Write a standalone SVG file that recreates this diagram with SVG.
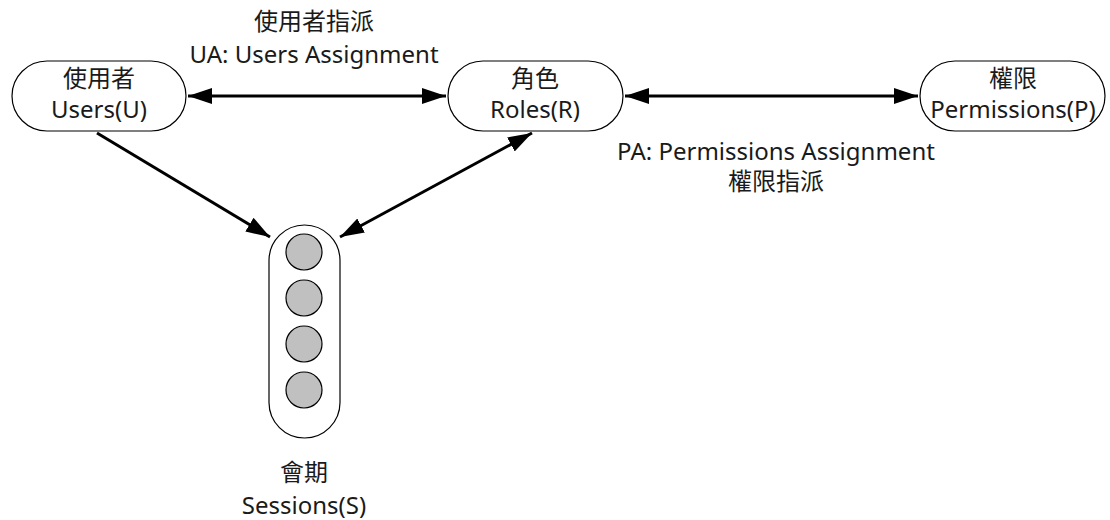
<svg xmlns="http://www.w3.org/2000/svg" width="1110" height="520" viewBox="0 0 1110 520">
<style>
.node{fill:#fff;stroke:#000;stroke-width:1.2}
.dot{fill:#c0c0c0;stroke:#000;stroke-width:1.2}
.t{font-family:"Noto Sans","Noto Sans CJK TC",sans-serif;font-size:24px;fill:#1a1a1a;text-anchor:middle}
.c{stroke:#000;stroke-width:3;fill:none}
</style>
<defs>
<marker id="ah" viewBox="0 0 24 16" refX="24" refY="8" markerWidth="24" markerHeight="16" markerUnits="userSpaceOnUse" orient="auto-start-reverse">
<path d="M0,0 L24,8 L0,16 Z" fill="#000"/>
</marker>
</defs>
<rect width="1110" height="520" fill="#fff"/>
<g id="connectors">
<line class="c" x1="188" y1="96" x2="446" y2="96" marker-start="url(#ah)" marker-end="url(#ah)"/>
<line class="c" x1="625" y1="96" x2="918" y2="96" marker-start="url(#ah)" marker-end="url(#ah)"/>
<line class="c" x1="97" y1="133" x2="270" y2="237" marker-end="url(#ah)"/>
<line class="c" x1="340" y1="237" x2="532" y2="133" marker-start="url(#ah)" marker-end="url(#ah)"/>
</g>
<g id="ua-label">
<text class="t" x="314" y="30">使用者指派</text>
<text class="t" x="314" y="63">UA: Users Assignment</text>
</g>
<g id="pa-label">
<text class="t" x="776" y="160">PA: Permissions Assignment</text>
<text class="t" x="776" y="190">權限指派</text>
</g>
<g id="users">
<rect class="node" x="12" y="61" width="174" height="70" rx="35"/>
<text class="t" x="99" y="87">使用者</text>
<text class="t" x="99" y="118">Users(U)</text>
</g>
<g id="roles">
<rect class="node" x="448" y="61" width="175" height="70" rx="35"/>
<text class="t" x="535" y="87">角色</text>
<text class="t" x="535" y="118">Roles(R)</text>
</g>
<g id="permissions">
<rect class="node" x="920" y="61" width="185" height="70" rx="35"/>
<text class="t" x="1013" y="87">權限</text>
<text class="t" x="1013" y="118">Permissions(P)</text>
</g>
<g id="sessions">
<rect class="node" x="269" y="225" width="71" height="213" rx="35.5"/>
<circle class="dot" cx="304" cy="252" r="18"/>
<circle class="dot" cx="304" cy="298" r="18"/>
<circle class="dot" cx="304" cy="344" r="18"/>
<circle class="dot" cx="304" cy="390" r="18"/>
<text class="t" x="304" y="481">會期</text>
<text class="t" x="304" y="514">Sessions(S)</text>
</g>
</svg>
